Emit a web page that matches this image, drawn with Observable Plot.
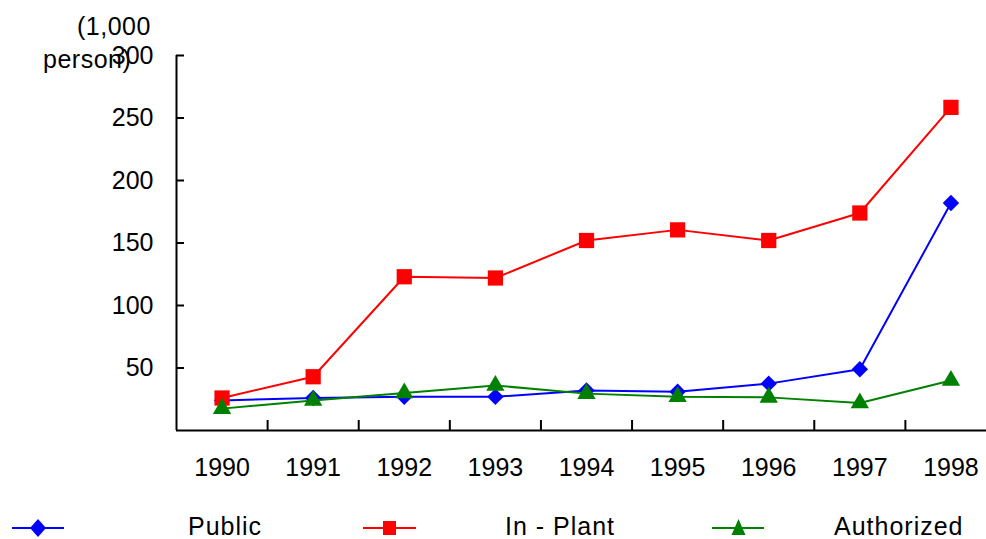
<!DOCTYPE html>
<html>
<head>
<meta charset="utf-8">
<script src="https://cdn.jsdelivr.net/npm/d3@7"></script>
<script src="https://cdn.jsdelivr.net/npm/@observablehq/plot@0.6"></script>
<style>
  html, body { margin: 0; padding: 0; background: #fff; overflow: hidden; }
  #wrap { position: relative; width: 986px; height: 539px; font-family: "Liberation Sans", Arial, sans-serif; }
  .unit { position: absolute; font-size: 25px; color: #000; white-space: nowrap; letter-spacing: 0.5px; }
  #legend { position: absolute; left: 0; top: 505px; width: 986px; height: 34px; }
  .lg { position: absolute; font-size: 25px; top: 7px; letter-spacing: 1px; }
  svg.lgm { position: absolute; top: 12px; }
</style>
</head>
<body>
<div id="wrap">
  <div id="chart"></div>
  <div class="unit" style="left:77px; top:12px;">(1,000</div>
  <div class="unit" style="left:43px; top:45px;">person)</div>
  <div id="legend"></div>
</div>
<script>
const years = [1990, 1991, 1992, 1993, 1994, 1995, 1996, 1997, 1998];
const publicVals = [24, 26, 27, 27, 32, 31, 37.5, 49, 182];
const inPlantVals = [26, 43, 123, 122, 152, 160.5, 152, 174, 258.5];
const authorizedVals = [17.5, 24, 30, 36, 29.5, 27, 26.5, 22, 40];
const yTicks = [50, 100, 150, 200, 250, 300];
const seriesNames = ["Public", "In-Plant", "Authorized"];
const seriesColors = ["#0000ff", "#ff0000", "#008000"];
const seriesSymbols = ["diamond2", "square", "triangle"];
const seriesR = [7.4, 8.6, 6.8];

const rows = s => years.map((y, i) => ({year: y, value: [publicVals, inPlantVals, authorizedVals][s][i]}));
const boundaries = years.slice(1).map(y => y - 0.5);

const font = "Liberation Sans, Arial, sans-serif";
const chart = Plot.plot({
  width: 986,
  height: 505,
  marginLeft: 176,
  marginRight: -10,
  marginTop: 55,
  marginBottom: 75,
  style: {fontFamily: font, fontSize: "25px", color: "#000", overflow: "visible"},
  x: {domain: [years[0] - 0.5, years[years.length - 1] + 0.5]},
  y: {domain: [0, 300]},
  marks: [
    Plot.ruleY([0], {stroke: "#000", strokeWidth: 2}),
    Plot.ruleX([years[0] - 0.5], {y1: 0, y2: 300, stroke: "#000", strokeWidth: 2}),
    Plot.axisX({ticks: boundaries, tickSize: -10, tickFormat: () => "", strokeWidth: 2, label: null}),
    Plot.axisX({ticks: years, tickSize: 0, tickPadding: 28, tickFormat: d => String(d), label: null, fontSize: 25, letterSpacing: 0.5}),
    Plot.axisY({ticks: yTicks, tickSize: -8, tickFormat: () => "", strokeWidth: 2, label: null}),
    Plot.axisY({ticks: yTicks, tickSize: 0, tickPadding: 23, tickFormat: d => String(d), label: null, fontSize: 25, letterSpacing: 0.5}),
    ...[0, 1, 2].flatMap(s => [
      Plot.line(rows(s), {x: "year", y: "value", stroke: seriesColors[s], strokeWidth: 2}),
      Plot.dot(rows(s), {x: "year", y: "value", symbol: seriesSymbols[s], r: seriesR[s], fill: seriesColors[s], stroke: "none"})
    ])
  ]
});
document.getElementById("chart").appendChild(chart);

// legend
const legend = document.getElementById("legend");
const lgLine = [[12, 64], [363, 416], [712, 764]];
const lgText = [188, 505, 834];
const shapes = {
  diamond2: (c) => `<path d="M26,2 L34,11 L26,20 L18,11 Z" fill="${c}"/>`,
  square: (c) => `<rect x="20" y="4" width="13" height="14" fill="${c}"/>`,
  triangle: (c) => `<path d="M26.5,2 L33.5,18 L19.5,18 Z" fill="${c}"/>`
};
seriesNames.forEach((name, s) => {
  const [x1, x2] = lgLine[s];
  const svg = `<svg class="lgm" width="${x2 - x1}" height="22" style="left:${x1}px">
    <line x1="0" x2="${x2 - x1}" y1="11" y2="11" stroke="${seriesColors[s]}" stroke-width="2"/>
    ${shapes[seriesSymbols[s]](seriesColors[s])}
  </svg>`;
  legend.insertAdjacentHTML("beforeend", svg);
  const t = document.createElement("div");
  t.className = "lg";
  t.style.left = lgText[s] + "px";
  t.textContent = name === "In-Plant" ? "In - Plant" : name;
  legend.appendChild(t);
});
</script>
</body>
</html>
